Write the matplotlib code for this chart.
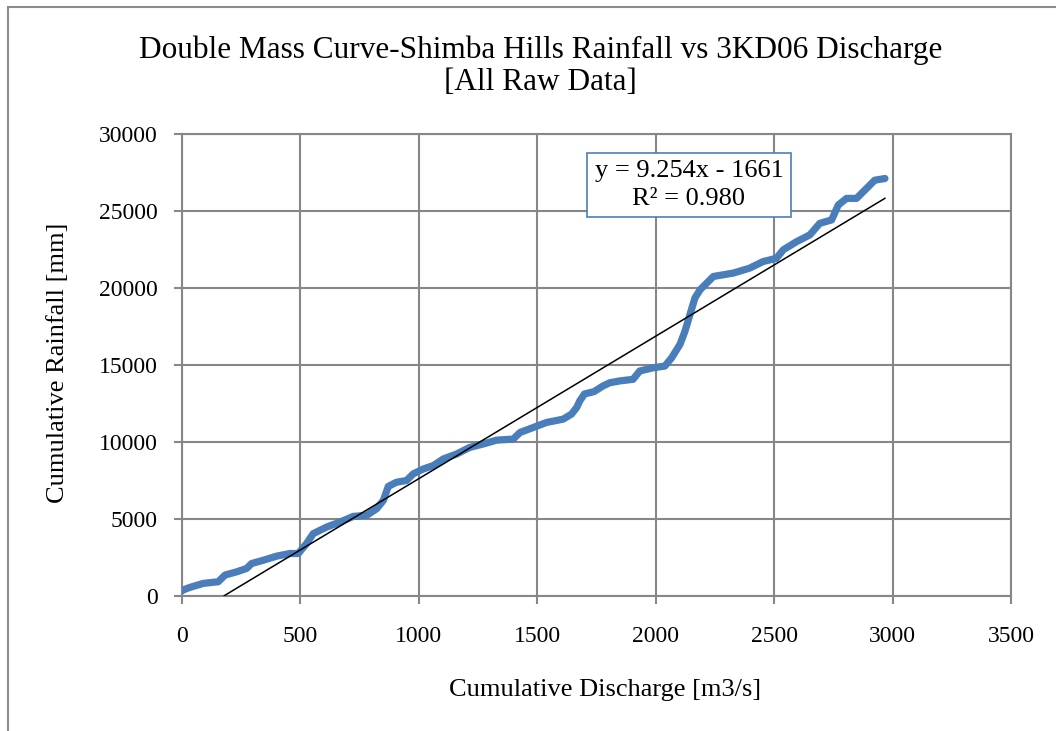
import matplotlib
matplotlib.use("Agg")
import matplotlib.pyplot as plt
from matplotlib.patches import Rectangle
import numpy as np

# cumulative discharge [m3/s] and cumulative rainfall [mm]
discharge = [0, 5, 35, 91, 154, 183, 232, 274, 295, 344, 401, 457, 492, 527,
             555, 612, 668, 724, 781, 823, 851, 872, 907, 949, 977, 1020, 1062,
             1104, 1160, 1216, 1272, 1329, 1399, 1428, 1484, 1540, 1610, 1645,
             1667, 1680, 1700, 1740, 1778, 1807, 1850, 1905, 1933, 1990, 2039,
             2068, 2103, 2124, 2145, 2166, 2188, 2244, 2328, 2397, 2454, 2510,
             2539, 2595, 2651, 2693, 2743, 2771, 2806, 2848, 2890, 2925, 2968]
rainfall = [300, 370, 540, 800, 905, 1340, 1550, 1770, 2090, 2300, 2570, 2740,
            2740, 3390, 4030, 4460, 4780, 5150, 5220, 5650, 6190, 7100, 7370,
            7480, 7910, 8230, 8450, 8880, 9200, 9630, 9850, 10100, 10170, 10600,
            10925, 11250, 11465, 11790, 12220, 12650, 13100, 13250, 13620, 13830,
            13950, 14050, 14590, 14800, 14910, 15450, 16320, 17175, 18250, 19330,
            19870, 20730, 20950, 21270, 21700, 21910, 22460, 22990, 23430, 24180,
            24400, 25370, 25800, 25800, 26440, 26980, 27090]

# linear trendline as given on the chart
slope = 9.254
intercept = -1661
r_squared = 0.980

x_ticks = [0, 500, 1000, 1500, 2000, 2500, 3000, 3500]
y_ticks = [0, 5000, 10000, 15000, 20000, 25000, 30000]

title = "Double Mass Curve-Shimba Hills Rainfall vs 3KD06 Discharge\n[All Raw Data]"
xlabel = "Cumulative Discharge [m3/s]"
ylabel = "Cumulative Rainfall [mm]"

plt.rcParams["font.family"] = ["Liberation Serif", "DejaVu Serif"]
grid_col = "#878787"
series_col = "#4A7EBB"

W, H, dpi = 1056, 731, 100
fig = plt.figure(figsize=(W / dpi, H / dpi), dpi=dpi)
ax = fig.add_axes([181.7 / W, 1 - 595.7 / H, (1011 - 181.7) / W, (595.7 - 133.7) / H])

# outer chart border (runs off the right and bottom of the image)
fig.patches.append(Rectangle((8 / W, -0.1), 1.2, 1 - 7 / H + 0.1, transform=fig.transFigure,
                             fill=False, edgecolor="#8c8c8c", lw=1.5))

ax.plot(discharge, rainfall, color=series_col, lw=5.2, solid_joinstyle="round",
        solid_capstyle="round", zorder=3)

x0 = -intercept / slope
x1 = max(discharge)
ax.plot([x0, x1], [slope * x0 + intercept, slope * x1 + intercept], color="black", lw=1.1, zorder=4)

ax.set_xlim(0, 3500)
ax.set_ylim(0, 30000)
ax.set_xticks(x_ticks)
ax.set_yticks(y_ticks)
ax.grid(True, color=grid_col, lw=1.5)
ax.set_axisbelow(True)
for s in ax.spines.values():
    s.set_color(grid_col)
    s.set_linewidth(1.5)
ax.tick_params(direction="out", length=6, width=1.5, color=grid_col, labelsize=17)
ax.tick_params(axis="x", pad=16)
ax.tick_params(axis="y", pad=11.5)

fig.text(0.512, 1 - 66 / H, title, ha="center", va="center", fontsize=22.5, linespacing=1.15)
fig.text(0.573, 1 - 690 / H, xlabel, ha="center", va="center", fontsize=19)
fig.text(58 / W, 1 - 363 / H, ylabel, ha="center", va="center", fontsize=19, rotation=90)

ax.text(689 / W, 1 - 185 / H, f"y = {slope}x - {abs(intercept)}\nR² = {r_squared:.3f}",
        transform=fig.transFigure, ha="center", va="center", fontsize=19, linespacing=1.3,
        bbox=dict(boxstyle="square,pad=0.3", fc="white", ec=series_col, lw=1.2), zorder=5)

fig.savefig("out.png", dpi=dpi)
